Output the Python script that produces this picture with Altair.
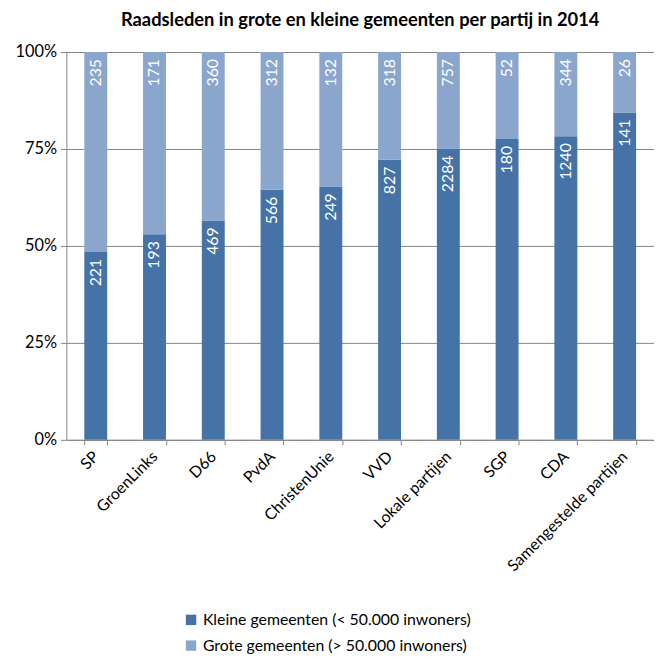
import altair as alt
import pandas as pd

partijen = ["SP", "GroenLinks", "D66", "PvdA", "ChristenUnie", "VVD",
            "Lokale partijen", "SGP", "CDA", "Samengestelde partijen"]
klein = [221, 193, 469, 566, 249, 827, 2284, 180, 1240, 141]
groot = [235, 171, 360, 312, 132, 318, 757, 52, 344, 26]
series = ["Kleine gemeenten (< 50.000 inwoners)", "Grote gemeenten (> 50.000 inwoners)"]
colors = ["#4572a7", "#8aa6cc"]
y_ticks = [0, 0.25, 0.5, 0.75, 1.0]

rows = []
for p, k, g in zip(partijen, klein, groot):
    rows.append({"partij": p, "reeks": series[0], "aantal": k, "volg": 0})
    rows.append({"partij": p, "reeks": series[1], "aantal": g, "volg": 1})
df = pd.DataFrame(rows)

FONT = "Lato"

base = alt.Chart(df).transform_stack(
    stack="aantal", groupby=["partij"], as_=["y0", "y1"],
    offset="normalize", sort=[alt.SortField("volg", order="ascending")]
)

x = alt.X("partij:N", sort=partijen, title=None,
          scale=alt.Scale(paddingInner=0.61, paddingOuter=0.305),
          axis=alt.Axis(labelAngle=-45, labelAlign="right", labelBaseline="middle",
                        labelFontSize=16, labelFont=FONT, labelColor="#000000",
                        tickBand="extent", tickSize=5, tickColor="#868686",
                        domainColor="#868686", grid=False, labelPadding=9,
                        labelOverlap=False, labelLimit=0))

bars = base.mark_bar().encode(
    x=x,
    y=alt.Y("y0:Q", title=None, scale=alt.Scale(domain=[0, 1]),
            axis=alt.Axis(values=y_ticks, format=".0%", labelFontSize=16.5,
                          labelFont=FONT, labelColor="#000000",
                          tickSize=6, tickColor="#868686", domainColor="#868686",
                          gridColor="#868686", gridOpacity=1, labelPadding=4)),
    y2="y1:Q",
    color=alt.Color("reeks:N", sort=series,
                    scale=alt.Scale(domain=series, range=colors),
                    legend=alt.Legend(title=None, orient="none", legendX=118, legendY=566,
                                      symbolType="square", symbolSize=110,
                                      symbolStrokeWidth=0, labelFontSize=16,
                                      labelFont=FONT, labelColor="#000000",
                                      rowPadding=10, labelOffset=4, labelLimit=0)),
)

labels = base.mark_text(angle=270, align="right", baseline="middle", dx=-7,
                        color="white", fontSize=16, font=FONT).encode(
    x=alt.X("partij:N", sort=partijen),
    y="y1:Q",
    text="aantal:Q",
)

chart = alt.layer(bars, labels).properties(
    width=594, height=392,
    title=alt.TitleParams("Raadsleden in grote en kleine gemeenten per partij in 2014",
                          fontSize=18.5, font=FONT, fontWeight="bold", color="#000000",
                          anchor="middle", offset=15),
    autosize=alt.AutoSizeParams(type="none"),
    padding={"left": 59, "top": 41, "right": 0, "bottom": 214},
).configure_view(stroke=None)

chart.save("out.html", embed_options={"renderer": "svg", "actions": False})
